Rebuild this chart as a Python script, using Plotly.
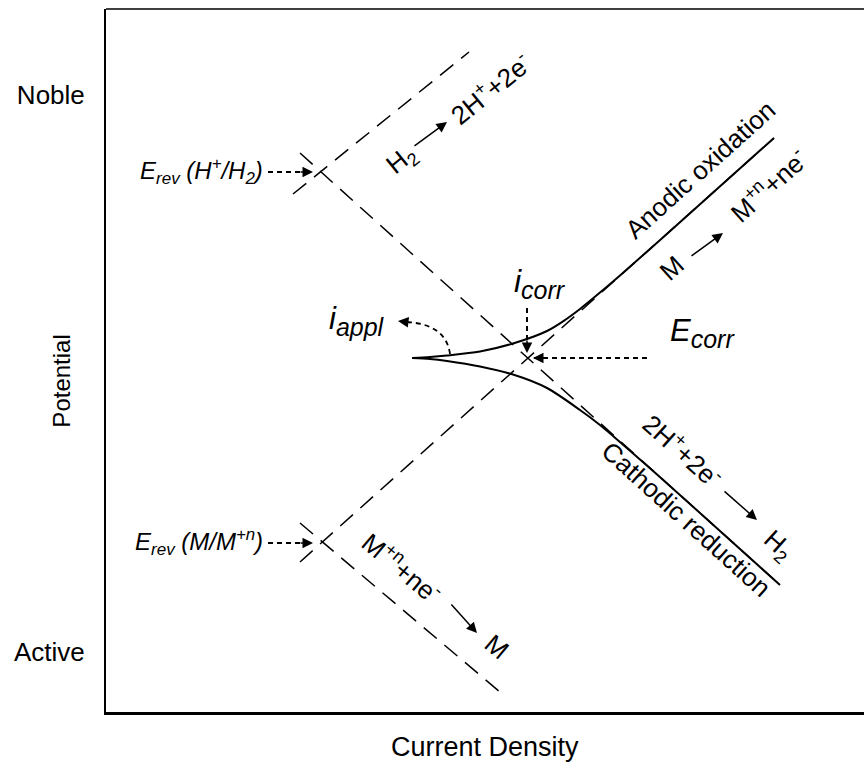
import plotly.graph_objects as go

FONT = "Liberation Sans, Arial, Helvetica, sans-serif"

# ---- axis extents (arbitrary units: log current density / potential) ----
X_RANGE = [0, 758]
Y_RANGE = [0, 703]

# potential tick marks
pot_tick_vals = [617, 60]
pot_tick_text = ["Noble", "Active"]

# reversible / mixed potentials and their current positions
e_rev_h, i0_h = 540, 215
e_rev_m, i0_m = 170, 216
e_corr, i_corr = 354, 422

# Tafel lines: (log i, E) end points
h_ox_x, h_ox_y = [187, 363], [518, 660]      # H2 -> 2H+ + 2e-
h_red_x, h_red_y = [194, 674], [559, 127]    # 2H+ + 2e- -> H2
m_ox_x, m_ox_y = [194, 668], [150, 574]      # M -> M+n + ne-
m_red_x, m_red_y = [194, 394], [189, 20]     # M+n + ne- -> M

# measured polarisation curves (net current)
anodic_x = [306, 324, 341, 374, 407, 441, 459, 474, 494, 514, 560, 668]
anodic_y = [354, 355, 356.5, 360.5, 368.5, 381, 392, 403, 419.4, 436.5, 477.3, 574]
cathodic_x = [306, 324, 341, 374, 407, 441, 474, 494, 507, 526, 560, 674]
cathodic_y = [354, 353, 351, 345.5, 337.5, 324, 302, 287, 276, 259.5, 229.6, 127]

# applied-current sweep arrow (start, bend, end)
appl_x = [344, 340, 300]
appl_y = [358, 388, 390]

fig = go.Figure()

tafel_style = dict(color="black", width=1.5, dash="17px,10px")
for xs, ys in [(h_ox_x, h_ox_y), (h_red_x, h_red_y), (m_ox_x, m_ox_y), (m_red_x, m_red_y)]:
    fig.add_trace(go.Scatter(x=xs, y=ys, mode="lines", line=tafel_style,
                             hoverinfo="skip", showlegend=False))

for xs, ys in [(anodic_x, anodic_y), (cathodic_x, cathodic_y)]:
    fig.add_trace(go.Scatter(x=xs, y=ys, mode="lines",
                             line=dict(color="black", width=2, shape="spline", smoothing=0.8),
                             hoverinfo="skip", showlegend=False))

dot_style = dict(color="black", width=2, dash="5px,4px")
HEAD = dict(showarrow=True, arrowhead=2, arrowsize=1.4, arrowwidth=1.5, arrowcolor="black")


def head(x1, y1, dx, dy):
    """filled arrow head at (x1, y1) pointing along (dx, dy)"""
    n = (dx * dx + dy * dy) ** 0.5
    fig.add_annotation(x=x1, y=y1, ax=x1 - 14 * dx / n, ay=y1 - 14 * dy / n,
                       xref="x", yref="y", axref="x", ayref="y", text="", **HEAD)


def dotted_arrow(x0, y0, x1, y1):
    """dotted shaft with a filled head at (x1, y1)"""
    fig.add_trace(go.Scatter(x=[x0, x1], y=[y0, y1], mode="lines", line=dot_style,
                             hoverinfo="skip", showlegend=False))
    head(x1, y1, x1 - x0, y1 - y0)


def solid_arrow(x0, y0, x1, y1):
    fig.add_annotation(x=x1, y=y1, ax=x0, ay=y0, xref="x", yref="y",
                       axref="x", ayref="y", text="", **HEAD)


# reversible potential pointers
dotted_arrow(162, e_rev_h, i0_h - 8, e_rev_h)
dotted_arrow(162, e_rev_m - 1, i0_m - 9, e_rev_m - 1)
# corrosion current / potential pointers
dotted_arrow(i_corr - 1, 404, i_corr - 1, e_corr + 5)
dotted_arrow(541, e_corr, i_corr + 5, e_corr)

# curved i_appl pointer
fig.add_shape(type="path", xref="x", yref="y",
              path=f"M {appl_x[0]},{appl_y[0]} Q {appl_x[1]},{appl_y[1]} {appl_x[2]},{appl_y[2]}",
              line=dict(color="black", width=1.8, dash="5px,4px"))
head(292, 391, -1, 0.12)

# reaction arrows
solid_arrow(307, 565, 341, 590)
solid_arrow(584, 455, 617, 479)
solid_arrow(617, 222, 651, 192)
solid_arrow(344, 109, 371, 79)


def label(x, y, text, size, angle=0, xanchor="center"):
    fig.add_annotation(x=x, y=y, xref="x", yref="y", text=text, showarrow=False,
                       textangle=angle, xanchor=xanchor, yanchor="middle",
                       font=dict(family=FONT, size=size, color="black"))


def sized(text, px):
    return f'<span style="font-size:{px}px">{text}</span>'


label(159, e_rev_h + 1, f"<i>E<sub>{sized('rev', 17)}</sub> (H<sup>+</sup>/H<sub>2</sub>)</i>", 24, xanchor="right")
label(159, e_rev_m, f"<i>E<sub>{sized('rev', 17)}</sub> (M/M<sup>+n</sup>)</i>", 24, xanchor="right")

label(295, 552, "H<sub>2</sub>", 26, -39)
label(384, 624, "2H<sup>+</sup>+2e<sup>-</sup>", 26, -39)
label(594, 542, "Anodic oxidation", 26, -42)
label(566, 444, "M", 26, -42)
label(662, 527, "M<sup>+n</sup>+ne<sup>-</sup>", 26, -42)
label(434, 429, f"<i>i<sub>{sized('corr', 25)}</sub></i>", 32)
label(596, 379, f"<i>E<sub>{sized('corr', 25)}</sub></i>", 31)
label(251, 391, f"<i>i<sub>{sized('appl', 25)}</sub></i>", 31)
label(577, 262, "2H<sup>+</sup>+2e<sup>-</sup>", 26, 42)
label(672, 167, "H<sub>2</sub>", 26, 42)
label(580, 193, "Cathodic reduction", 26, 42)
label(296, 145, "M<sup>+n</sup>+ne<sup>-</sup>", 26, 40)
label(391, 65, "M", 26, 40)

# axis names
fig.add_annotation(x=-0.058, y=0.47, xref="paper", yref="paper", text="Potential",
                   textangle=-90, showarrow=False, xanchor="center", yanchor="middle",
                   font=dict(family=FONT, size=24, color="black"))
fig.add_annotation(x=0.5, y=-0.05, xref="paper", yref="paper", text="Current Density",
                   showarrow=False, xanchor="center", yanchor="middle",
                   font=dict(family=FONT, size=27, color="black"))

# top edge of the frame
fig.add_shape(type="line", xref="paper", yref="paper", x0=0, x1=1, y0=1, y1=1,
              line=dict(color="black", width=1.5))

fig.update_layout(
    width=864, height=762,
    margin=dict(l=106, r=0, t=9, b=50),
    paper_bgcolor="white", plot_bgcolor="white",
    showlegend=False,
    xaxis=dict(range=X_RANGE, showgrid=False, zeroline=False, showticklabels=False,
               ticks="", showline=True, linecolor="black", linewidth=3, fixedrange=True),
    yaxis=dict(range=Y_RANGE, showgrid=False, zeroline=False, tickmode="array",
               tickvals=pot_tick_vals, ticktext=pot_tick_text, ticks="",
               tickfont=dict(family=FONT, size=26, color="black"), ticklabelstandoff=14,
               showline=True, linecolor="black", linewidth=2, fixedrange=True),
)

fig.write_html("out.html")
